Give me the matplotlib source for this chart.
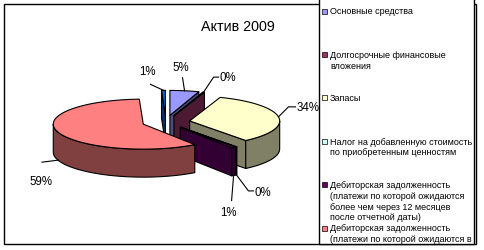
import numpy as np
import matplotlib
matplotlib.use("Agg")
import matplotlib.pyplot as plt
from matplotlib.patches import Polygon, Rectangle
import matplotlib.colors as mcolors

# ---------------- data ----------------
title = "Актив 2009"
categories = [
    "Основные средства",
    "Долгосрочные финансовые\nвложения",
    "Запасы",
    "Налог на добавленную стоимость\nпо приобретенным ценностям",
    "Дебиторская задолженность\n(платежи по которой ожидаются\nболее чем через 12 месяцев\nпосле отчетной даты)",
    "Дебиторская задолженность\n(платежи по которой ожидаются в\nтечение 12 месяцев после\nотчетной даты)",
    "Денежные средства",
]
values = [5.2, 0.3, 33.8, 0.2, 0.8, 59.0, 0.7]
colors = ["#9999FF", "#993366", "#FFFFCC", "#CCFFFF", "#660066", "#FF8080", "#0066CC"]

# ---------------- layout ----------------
W, H = 485, 251
CX, CY = 166, 123          # pie centre (pixels)
R, RY = 90, 25             # ellipse radii
DEPTH = 28                 # thickness
EXPL = 24                  # explosion distance
K = RY / R
label_layout = [
    dict(lead=[(-2, -13)], text=(-3.5, -23.5), ha="center"),
    dict(lead=[(10, -15), (15, -15)], text=(16, -15), ha="left"),
    dict(lead=[(10, -10), (17, -10)], text=(18, -10), ha="left"),
    dict(lead=[(12, 16), (17, 16)], text=(18, 17), ha="left"),
    dict(lead=[(-2, 25)], text=(-5, 36), ha="center"),
    dict(lead=[(-16, 2)], text=(-17, 21), ha="center"),
    dict(lead=[(-13, -6)], text=(-16, -19), ha="center"),
]
LEG_X0, LEG_X1, LEG_Y0, LEG_Y1 = 319, 474, -5, 245
LEG_FIRST, LEG_STEP, LINE_H = 12, 43.4, 10.8

FONT = "Liberation Sans"
plt.rcParams["font.family"] = [FONT, "DejaVu Sans"]

fig = plt.figure(figsize=(W / 100, H / 100), dpi=100)
ax = fig.add_axes([0, 0, 1, 1])
ax.set_xlim(0, W)
ax.set_ylim(H, 0)
ax.axis("off")


def shade(c, f=0.5):
    r, g, b = mcolors.to_rgb(c)
    return (r * f, g * f, b * f)


def rim(cx, cy, phi, z=0.0):
    p = np.deg2rad(phi)
    return (cx + R * np.cos(p), cy - RY * np.sin(p) + z)


total = float(sum(values))
cum = np.concatenate([[0], np.cumsum(values)]) / total * 360.0

faces, sides, tops, anchors = [], [], [], []
for i, (v, col) in enumerate(zip(values, colors)):
    s_deg, e_deg = cum[i], cum[i + 1]
    phi_s, phi_e = 90 - s_deg, 90 - e_deg
    phi_m = (phi_s + phi_e) / 2
    pm = np.deg2rad(phi_m)
    cx = CX + EXPL * np.cos(pm)
    cy = CY - EXPL * K * np.sin(pm)
    dark = shade(col)

    n = max(3, int(abs(phi_s - phi_e) / 2) + 2)
    arc = np.linspace(phi_s, phi_e, n)
    top_pts = [(cx, cy)] + [rim(cx, cy, a) for a in arc]
    tops.append((cy, top_pts, col))

    fine = np.linspace(phi_s, phi_e, max(4, int(abs(phi_s - phi_e) * 2)))
    vis = np.sin(np.deg2rad(fine)) < -1e-9
    seg = []

    def flush(seg):
        if len(seg) > 1:
            up = [rim(cx, cy, a2) for a2 in seg]
            dn = [rim(cx, cy, a2, DEPTH) for a2 in seg[::-1]]
            sides.append((cy, up + dn, dark))

    for a, vv in zip(fine, vis):
        if vv:
            seg.append(a)
        elif seg:
            flush(seg)
            seg = []
    flush(seg)

    for phi, visible in ((phi_s, np.cos(np.deg2rad(phi_s)) < 0),
                         (phi_e, np.cos(np.deg2rad(phi_e)) > 0)):
        if visible:
            r0 = rim(cx, cy, phi)
            pts = [(cx, cy), r0, (r0[0], r0[1] + DEPTH), (cx, cy + DEPTH)]
            faces.append(((cy + r0[1]) / 2, pts, dark))

    a = rim(cx, cy, phi_m, DEPTH if np.sin(pm) < 0 else 0)
    anchors.append(a)

z = 1.0
for group in (faces, sides, tops):
    for key, pts, c in sorted(group, key=lambda t: t[0]):
        ax.add_patch(Polygon(pts, closed=True, facecolor=c, edgecolor="black",
                             linewidth=0.8, joinstyle="round", zorder=z))
        z += 0.01
    z += 1

# data labels
for i, (v, a) in enumerate(zip(values, anchors)):
    lay = label_layout[i]
    xs = [a[0]] + [a[0] + dx for dx, dy in lay["lead"]]
    ys = [a[1]] + [a[1] + dy for dx, dy in lay["lead"]]
    ax.plot(xs, ys, color="black", lw=0.8, zorder=10)
    pct = f"{round(v / total * 100):.0f}%"
    ax.text(a[0] + lay["text"][0], a[1] + lay["text"][1], pct,
            ha=lay["ha"], va="center", fontsize=8.3, color="black", zorder=11)

# title
ax.text(238, 27, title, ha="center", va="center", fontsize=10.3, zorder=11)

# chart border
ax.add_patch(Rectangle((4, 5), 472, 240, fill=False, edgecolor="black",
                       linewidth=1.0, zorder=12))

# legend box (entries that overflow the box are cut, as in the original)
leg = Rectangle((LEG_X0, LEG_Y0), LEG_X1 - LEG_X0, LEG_Y1 - LEG_Y0,
                facecolor="white", edgecolor="black", linewidth=1.0, zorder=13)
ax.add_patch(leg)
for i, (cat, col) in enumerate(zip(categories, colors)):
    y = LEG_FIRST + i * LEG_STEP
    lines = cat.split("\n")
    shown = [ln for k, ln in enumerate(lines) if y + k * LINE_H + 3 < LEG_Y1]
    if not shown:
        continue
    ax.add_patch(Rectangle((322.5, y - 2.5), 5, 5, facecolor=col,
                           edgecolor="black", linewidth=0.5, zorder=14))
    for k, ln in enumerate(shown):
        ax.text(330, y + k * LINE_H, ln, ha="left", va="center",
                fontsize=6.5, zorder=14)

fig.savefig("out.png", dpi=100)
